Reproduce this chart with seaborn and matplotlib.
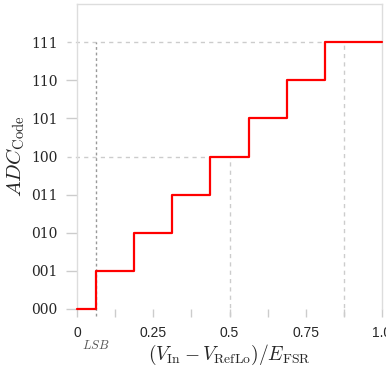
import matplotlib
matplotlib.use("Agg")
import matplotlib.pyplot as plt
import seaborn as sns
import pandas as pd

# Data
input_edges = [0.0, 0.0625, 0.1875, 0.3125, 0.4375, 0.5625, 0.6875, 0.8125, 1.0]
codes = [0, 1, 2, 3, 4, 5, 6, 7, 7]
code_labels = ["000", "001", "010", "011", "100", "101", "110", "111"]
x_tick_pos = [0, 0.125, 0.25, 0.375, 0.5, 0.625, 0.75, 0.875, 1.0]
x_tick_labels = ["0", "", "0.25", "", "0.5", "", "0.75", "", "1.0"]
lsb = 0.0625

sns.set_theme(style="white")
plt.rcParams["mathtext.fontset"] = "cm"
plt.rcParams["font.family"] = ["DejaVu Sans"]

df = pd.DataFrame({"x": input_edges, "code": codes})

fig = plt.figure(figsize=(3.86, 3.76), dpi=100)
ax = fig.add_axes([77 / 386, 67 / 376, 305 / 386, 305 / 376])

grey = "#cccccc"

# reference lines
ax.plot([-0.033, input_edges[7]], [7, 7], ls=(0, (3, 3)), color=grey, lw=1, clip_on=False, zorder=1)
ax.plot([-0.033, input_edges[4]], [4, 4], ls=(0, (3, 3)), color=grey, lw=1, clip_on=False, zorder=1)
ax.plot([0.5, 0.5], [-0.18, 4], ls=(0, (3, 3)), color=grey, lw=1, clip_on=False, zorder=1)
ax.plot([0.875, 0.875], [-0.18, 7], ls=(0, (3, 3)), color=grey, lw=1, clip_on=False, zorder=1)
ax.plot([lsb, lsb], [-0.18, 7], ls=(0, (2, 2)), color="#999999", lw=1, clip_on=False, zorder=1)

sns.lineplot(data=df, x="x", y="code", drawstyle="steps-post", color="red",
             lw=1.6, estimator=None, ax=ax, zorder=3, clip_on=False)

ax.set_xlim(0, 1.0)
ax.set_ylim(0, 8)

ax.set_xticks(x_tick_pos)
ax.set_xticklabels(x_tick_labels, fontsize=10, family="Liberation Sans")
ax.set_yticks(range(8))
ax.set_yticklabels(code_labels, fontsize=10, family="DejaVu Serif")

ax.tick_params(axis="x", direction="out", length=6, width=1, color=grey, pad=6, bottom=True)
ax.tick_params(axis="y", direction="out", length=8, width=1, color=grey, pad=6, left=True)
ytl = ax.yaxis.get_major_ticks()
for i in (4, 7):
    ytl[i].tick1line.set_visible(False)

for s in ["left", "top", "right"]:
    ax.spines[s].set_color("#dddddd")
    ax.spines[s].set_linewidth(1)
ax.spines["bottom"].set_visible(False)

ax.set_xlabel(r"$(V_{\mathrm{In}} - V_{\mathrm{RefLo}})/E_{\mathrm{FSR}}$", fontsize=14, labelpad=2)
ax.set_ylabel(r"$ADC_{\mathrm{Code}}$", fontsize=15, labelpad=3)

ax.text(lsb, -0.95, r"$LSB$", ha="center", va="center", fontsize=9, color="#555555",
        transform=ax.transData, clip_on=False)

fig.savefig("out.png", dpi=100)
